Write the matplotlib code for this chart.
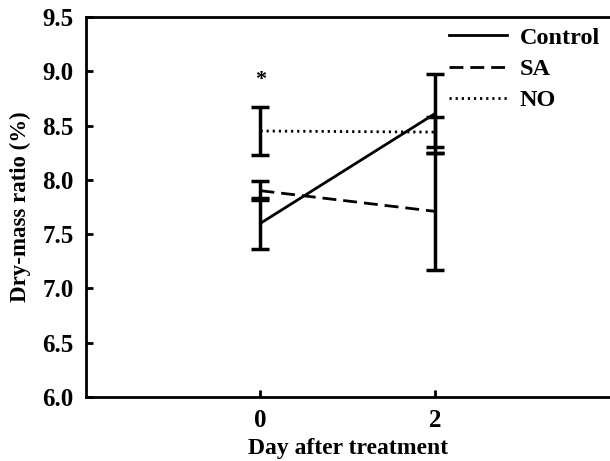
import matplotlib
matplotlib.use("Agg")
import matplotlib.pyplot as plt

days = [0, 2]
control = [7.60, 8.61]
control_err = [0.235, 0.365]
sa = [7.90, 7.71]
sa_err = [0.09, 0.54]
no = [8.45, 8.44]
no_err = [0.22, 0.14]

plt.rcParams['font.family'] = ['Liberation Serif', 'DejaVu Serif']
plt.rcParams['font.weight'] = 'bold'

fig = plt.figure(figsize=(6.1, 4.61), dpi=100)
ax = fig.add_axes([0.141, 0.139, 0.858, 0.824])

series = [
    ("Control", control, control_err, '-'),
    ("SA", sa, sa_err, (0, (5, 2.5))),
    ("NO", no, no_err, (0, (0.8, 1.4))),
]
for name, vals, errs, style in series:
    ax.plot(days, vals, color='black', linestyle=style, linewidth=2, label=name)
    ax.errorbar(days, vals, yerr=errs, fmt='none', ecolor='black',
                elinewidth=2.5, capsize=6.5, capthick=2.5)

# significance mark above day 0
ax.text(0, 8.92, '*', ha='center', va='center', fontsize=16)

ax.set_xlim(-2, 4)
ax.set_ylim(6.0, 9.5)
ax.set_xticks(days)
ax.set_yticks([6.0, 6.5, 7.0, 7.5, 8.0, 8.5, 9.0, 9.5])
ax.set_yticklabels(["%.1f" % v for v in ax.get_yticks()])
ax.tick_params(direction='in', length=5, width=2, labelsize=18)
ax.tick_params(axis='y', pad=9)
ax.tick_params(axis='x', pad=9)
for side in ['left', 'bottom', 'top']:
    ax.spines[side].set_linewidth(2)
ax.spines['right'].set_visible(False)

ax.set_xlabel("Day after treatment", fontsize=17, fontweight='bold', labelpad=4)
ax.set_ylabel("Dry-mass ratio (%)", fontsize=16.5, fontweight='bold', labelpad=8)

leg = ax.legend(loc='upper right', frameon=False, fontsize=17.5, handlelength=2.4,
                borderaxespad=0.0, labelspacing=0.38, handletextpad=0.5)

fig.savefig("out.png", dpi=100)
